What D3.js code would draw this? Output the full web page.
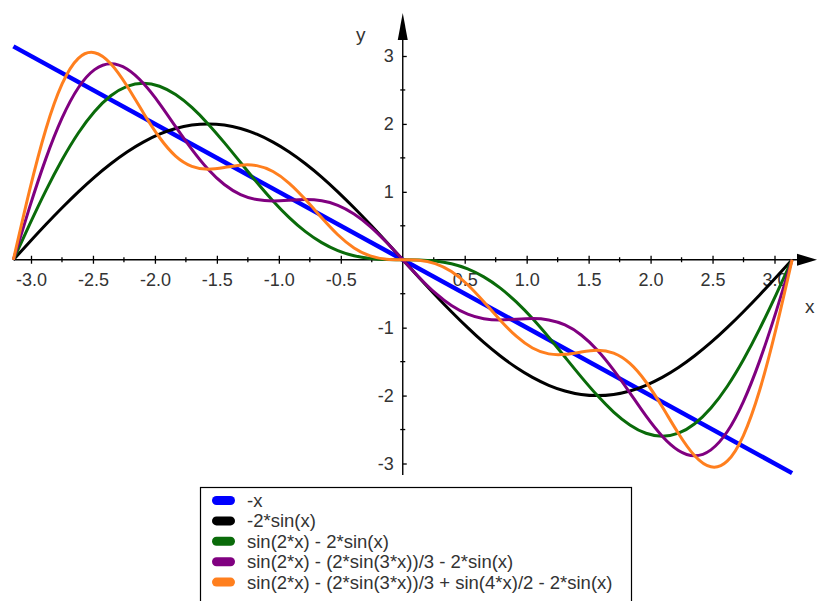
<!DOCTYPE html>
<html>
<head>
<meta charset="utf-8">
<script src="https://cdn.jsdelivr.net/npm/d3@7"></script>
<style>
  body { margin: 0; background: #fff; }
  text { font-family: "Liberation Sans", Arial, sans-serif; fill: #333; }
</style>
</head>
<body>
<div id="chart"></div>
<script>
// sample positions (x = -pi .. pi)
const xs = [-3.142, -3.011, -2.880, -2.749, -2.618, -2.487, -2.356, -2.225, -2.094, -1.963, -1.833, -1.702,
  -1.571, -1.440, -1.309, -1.178, -1.047, -0.916, -0.785, -0.654, -0.524, -0.393, -0.262, -0.131, 0,
  0.131, 0.262, 0.393, 0.524, 0.654, 0.785, 0.916, 1.047, 1.178, 1.309, 1.440, 1.571, 1.702, 1.833,
  1.963, 2.094, 2.225, 2.356, 2.487, 2.618, 2.749, 2.880, 3.011, 3.142];

const lineX = [-3.142, 3.142];
const lineY = [3.142, -3.142];

const sin1 = [0, 0.261, 0.518, 0.765, 1.000, 1.218, 1.414, 1.587, 1.732, 1.848, 1.932, 1.983,
  2.000, 1.983, 1.932, 1.848, 1.732, 1.587, 1.414, 1.218, 1.000, 0.765, 0.518, 0.261, 0,
  -0.261, -0.518, -0.765, -1.000, -1.218, -1.414, -1.587, -1.732, -1.848, -1.932, -1.983, -2.000,
  -1.983, -1.932, -1.848, -1.732, -1.587, -1.414, -1.218, -1.000, -0.765, -0.518, -0.261, 0];

const sin2 = [0, 0.520, 1.018, 1.472, 1.866, 2.183, 2.414, 2.553, 2.598, 2.555, 2.432, 2.242,
  2.000, 1.724, 1.432, 1.141, 0.866, 0.621, 0.414, 0.252, 0.134, 0.058, 0.018, 0.002, 0,
  -0.002, -0.018, -0.058, -0.134, -0.252, -0.414, -0.621, -0.866, -1.141, -1.432, -1.724, -2.000,
  -2.242, -2.432, -2.555, -2.598, -2.553, -2.414, -2.183, -1.866, -1.472, -1.018, -0.520, 0];

const sin3 = [0, 0.775, 1.489, 2.088, 2.533, 2.799, 2.886, 2.808, 2.598, 2.300, 1.960, 1.626,
  1.333, 1.108, 0.960, 0.886, 0.866, 0.876, 0.886, 0.868, 0.801, 0.674, 0.489, 0.257, 0,
  -0.257, -0.489, -0.674, -0.801, -0.868, -0.886, -0.876, -0.866, -0.886, -0.960, -1.108, -1.333,
  -1.626, -1.960, -2.300, -2.598, -2.808, -2.886, -2.799, -2.533, -2.088, -1.489, -0.775, 0];

const sin4 = [0, 1.025, 1.922, 2.588, 2.966, 3.049, 2.886, 2.558, 2.165, 1.800, 1.527, 1.376,
  1.333, 1.358, 1.393, 1.386, 1.299, 1.126, 0.886, 0.618, 0.368, 0.174, 0.056, 0.007, 0,
  -0.007, -0.056, -0.174, -0.368, -0.618, -0.886, -1.126, -1.299, -1.386, -1.393, -1.358, -1.333,
  -1.376, -1.527, -1.800, -2.165, -2.558, -2.886, -3.049, -2.966, -2.588, -1.922, -1.025, 0];

const labels = ["-x", "-2*sin(x)", "sin(2*x) - 2*sin(x)", "sin(2*x) - (2*sin(3*x))/3 - 2*sin(x)",
  "sin(2*x) - (2*sin(3*x))/3 + sin(4*x)/2 - 2*sin(x)"];
const colors = ["#0000ff", "#000000", "#0a6b0a", "#800080", "#ff7f1e"];

const xMajor = [-3, -2.5, -2, -1.5, -1, -0.5, 0.5, 1, 1.5, 2, 2.5, 3];
const xMinor = [-2.75, -2.25, -1.75, -1.25, -0.75, -0.25, 0.25, 0.75, 1.25, 1.75, 2.25, 2.75];
const yMajor = [-3, -2, -1, 1, 2, 3];
const yMinor = [-2.5, -1.5, -0.5, 0.5, 1.5, 2.5];

const width = 817, height = 601;
const svg = d3.select("#chart").append("svg")
    .attr("width", width)
    .attr("height", height);

const x = d3.scaleLinear().domain([-3, 3]).range([31, 774.5]);
const y = d3.scaleLinear().domain([-3, 3]).range([463.5, 56]);

const x0 = x(0), y0 = y(0);
// plain hyphen for negatives, as in the original
const fmt1 = d => d3.format(".1f")(d).replace("\u2212", "-");
const fmt0 = d => d3.format("d")(d).replace("\u2212", "-");

// x axis
const xAxis = svg.append("g").attr("transform", `translate(0,${y0})`);
xAxis.call(d3.axisBottom(x).tickValues(xMajor).tickFormat(fmt1).tickSizeOuter(0).tickSize(4));
xAxis.select(".domain").remove();
xAxis.selectAll(".tick line").attr("y1", -4).attr("stroke", "#000").attr("stroke-width", 1.3);
xAxis.selectAll(".tick text").attr("y", 13).attr("dy", "0.71em")
    .style("font-size", "18px").style("font-family", "'Liberation Sans', Arial, sans-serif").attr("fill", "#333");
xAxis.selectAll(".minor").data(xMinor).enter().append("line")
    .attr("x1", d => x(d)).attr("x2", d => x(d)).attr("y1", -2.5).attr("y2", 2.5)
    .attr("stroke", "#000").attr("stroke-width", 1.3);
xAxis.append("line").attr("x1", x(-Math.PI)).attr("x2", 800).attr("y1", 0).attr("y2", 0)
    .attr("stroke", "#000").attr("stroke-width", 1.4);
xAxis.append("path").attr("d", "M797,-6L817,0L797,6Z").attr("fill", "#000");

// y axis
const yAxis = svg.append("g").attr("transform", `translate(${x0},0)`);
yAxis.call(d3.axisLeft(y).tickValues(yMajor).tickFormat(fmt0).tickSizeOuter(0).tickSize(4));
yAxis.select(".domain").remove();
yAxis.selectAll(".tick line").attr("x2", 4).attr("stroke", "#000").attr("stroke-width", 1.3);
yAxis.selectAll(".tick text").attr("x", -9)
    .style("font-size", "18px").style("font-family", "'Liberation Sans', Arial, sans-serif").attr("fill", "#333");
yAxis.selectAll(".minor").data(yMinor).enter().append("line")
    .attr("y1", d => y(d)).attr("y2", d => y(d)).attr("x1", -2.5).attr("x2", 2.5)
    .attr("stroke", "#000").attr("stroke-width", 1.3);
yAxis.append("line").attr("x1", 0).attr("x2", 0).attr("y1", 475).attr("y2", 30)
    .attr("stroke", "#000").attr("stroke-width", 1.4);
yAxis.append("path").attr("d", "M-5,40L0,13L5,40Z").attr("fill", "#000");

svg.append("text").attr("x", 356).attr("y", 41).style("font-size", "19px").text("y");
svg.append("text").attr("x", 805).attr("y", 313).style("font-size", "19px").text("x");

// curves
const line = d3.line().x(d => x(d[0])).y(d => y(d[1])).curve(d3.curveNatural);
const series = [
  d3.zip(lineX, lineY),
  d3.zip(xs, sin1),
  d3.zip(xs, sin2),
  d3.zip(xs, sin3),
  d3.zip(xs, sin4)
];

svg.selectAll(".curve").data(series).enter().append("path")
    .attr("class", "curve")
    .attr("d", line)
    .attr("fill", "none")
    .attr("stroke", (d, i) => colors[i])
    .attr("stroke-width", (d, i) => i === 0 ? 4.5 : 3)
    .attr("stroke-linejoin", "round");

// legend
const legend = svg.append("g");
legend.append("rect").attr("x", 200.5).attr("y", 487.5).attr("width", 431).attr("height", 130)
    .attr("fill", "#fff").attr("stroke", "#000").attr("stroke-width", 1.2);

const rows = legend.selectAll(".row").data(labels).enter().append("g")
    .attr("transform", (d, i) => `translate(0,${500.5 + i * 20.4})`);
rows.append("rect").attr("x", 212).attr("y", -4.5).attr("width", 23).attr("height", 9).attr("rx", 4.5)
    .attr("fill", (d, i) => colors[i]);
rows.append("text").attr("x", 247).attr("y", 6.5).style("font-size", "18.5px").text(d => d);
</script>
</body>
</html>
